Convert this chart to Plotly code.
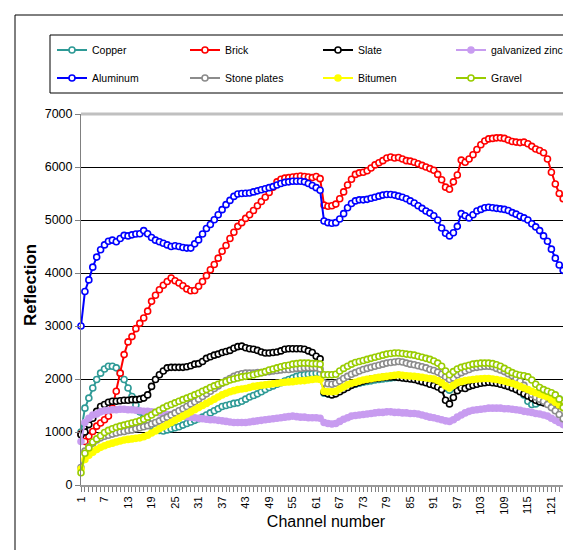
import plotly.graph_objects as go

channels = list(range(1, 127))

copper = [
    1000, 1450, 1640, 1830, 1990, 2110, 2190, 2240, 2240, 2210,
    2110, 1990, 1830, 1670, 1510, 1380, 1270, 1180, 1110, 1060,
    1030, 1020, 1040, 1060, 1080, 1100, 1130, 1160, 1190, 1220,
    1250, 1280, 1320, 1360, 1400, 1440, 1480, 1500, 1520, 1540,
    1550, 1580, 1620, 1660, 1690, 1720, 1760, 1800, 1840, 1870,
    1900, 1930, 1960, 1990, 2020, 2050, 2070, 2080, 2090, 2100,
    2110, 2100, 1730, 1720, 1720, 1730, 1770, 1810, 1850, 1880,
    1900, 1920, 1940, 1955, 1965, 1980, 1990, 2000, 2010, 2020,
    2030, 2040, 2030, 2020, 2015, 2010, 2000, 1990, 1980, 1970,
    1960, 1930, 1890, 1830, 1790, 1840, 1890, 1910, 1930, 1940,
    1950, 1960, 1965, 1970, 1970, 1960, 1950, 1935, 1920, 1900,
    1880, 1850, 1820, 1700, 1580, 1520, 1530, 1560, 1600, 1640,
    1660, 1670, 1620, 1550, 1610, 1580]

brick = [
    960, 820, 920, 1010, 1110, 1170, 1230, 1300, 1450, 1770,
    2110, 2460, 2700, 2800, 2950, 3050, 3150, 3280, 3465, 3580,
    3685, 3770, 3840, 3905, 3855, 3810, 3760, 3700, 3665, 3670,
    3750, 3840, 3950, 4060, 4160, 4280, 4410, 4520, 4650, 4770,
    4880, 4950, 5030, 5100, 5180, 5270, 5350, 5430, 5520, 5620,
    5720, 5770, 5790, 5800, 5810, 5820, 5830, 5820, 5810, 5800,
    5820, 5780, 5280, 5260, 5270, 5300, 5400, 5530, 5660, 5770,
    5860, 5890, 5900, 5930, 5980, 6040, 6080, 6120, 6170, 6190,
    6170, 6180, 6150, 6120, 6110, 6090, 6060, 6030, 6000, 5970,
    5940, 5860, 5760, 5620, 5580, 5720, 5850, 6130, 6090, 6150,
    6230, 6330, 6420, 6490, 6530, 6540, 6550, 6550, 6540, 6510,
    6480, 6470, 6460, 6470, 6440, 6390, 6340, 6310, 6270, 6150,
    5900, 5680, 5500, 5400, 5150, 5500]

slate = [
    950, 1000, 1140, 1260, 1390, 1480, 1520, 1560, 1580, 1580,
    1590, 1600, 1600, 1610, 1610, 1620, 1640, 1700, 1860, 1990,
    2080, 2150, 2210, 2220, 2220, 2220, 2220, 2230, 2250, 2280,
    2290, 2330, 2390, 2420, 2450, 2470, 2500, 2520, 2540, 2580,
    2610, 2620, 2590, 2570, 2560, 2540, 2510, 2490, 2490, 2500,
    2510, 2530, 2560, 2570, 2570, 2570, 2570, 2560, 2530, 2500,
    2430, 2380, 1750, 1720, 1700, 1720, 1760, 1800, 1840, 1880,
    1910, 1940, 1960, 1980, 2000, 2010, 2020, 2030, 2040, 2040,
    2040, 2030, 2020, 2010, 2000, 1990, 1970, 1950, 1930, 1900,
    1880, 1850, 1800, 1600, 1530, 1650, 1780, 1830, 1820, 1860,
    1880, 1900, 1920, 1930, 1940, 1930, 1920, 1900, 1880, 1860,
    1830, 1800, 1760, 1720, 1680, 1640, 1600, 1570, 1550, 1540,
    1530, 1520, 1500, 1480, 1460, 1450]

zinc = [
    820, 1180, 1260, 1320, 1340, 1380, 1400, 1410, 1420, 1420,
    1430, 1430, 1420, 1420, 1410, 1400, 1390, 1390, 1380, 1370,
    1360, 1340, 1330, 1330, 1320, 1310, 1300, 1290, 1280, 1270,
    1260, 1250, 1240, 1230, 1230, 1220, 1210, 1200, 1190, 1180,
    1180, 1180, 1180, 1190, 1200, 1210, 1220, 1230, 1240, 1250,
    1260, 1270, 1280, 1290, 1300, 1290, 1280, 1280, 1270, 1270,
    1270, 1260, 1180, 1160, 1150, 1160, 1200, 1240, 1270, 1300,
    1310, 1320, 1330, 1340, 1350, 1360, 1370, 1370, 1380, 1380,
    1370, 1370, 1360, 1360, 1350, 1350, 1340, 1320, 1300, 1280,
    1270, 1250, 1230, 1210, 1200, 1230, 1280, 1320, 1360, 1390,
    1410, 1420, 1430, 1440, 1450, 1450, 1450, 1450, 1440, 1440,
    1430, 1420, 1410, 1390, 1380, 1370, 1350, 1340, 1320, 1300,
    1260, 1220, 1180, 1140, 1110, 1090]

aluminum = [
    3000, 3650, 3870, 4110, 4300, 4440, 4530, 4600, 4620, 4590,
    4650, 4710, 4700, 4720, 4735, 4740, 4800, 4740, 4670, 4620,
    4590, 4560, 4530, 4500, 4515, 4500, 4480, 4470, 4470, 4550,
    4625, 4735, 4840, 4915, 5005, 5100, 5195, 5290, 5370, 5445,
    5490, 5500, 5505, 5510, 5530, 5550, 5570, 5590, 5610, 5630,
    5660, 5690, 5710, 5720, 5730, 5730, 5730, 5720, 5690, 5650,
    5610, 5560, 4980, 4950, 4940, 4950, 5020, 5120, 5230, 5310,
    5360, 5380, 5380, 5390, 5410, 5430, 5450, 5470, 5480, 5480,
    5470, 5450, 5430, 5400, 5360, 5320, 5270, 5220, 5170, 5130,
    5080, 5000, 4850, 4750, 4700, 4760, 4880, 5120, 5080, 5040,
    5100, 5170, 5200, 5230, 5240, 5230, 5220, 5210, 5200, 5180,
    5140, 5110, 5070, 5040, 5000, 4930, 4870, 4800, 4700, 4600,
    4450, 4280, 4150, 4050, 3850, 3960]

stone_plates = [
    330, 640, 720, 790, 850, 890, 920, 940, 960, 980,
    1000, 1010, 1030, 1040, 1060, 1080, 1100, 1120, 1150, 1180,
    1210, 1250, 1280, 1320, 1360, 1400, 1440, 1480, 1530, 1570,
    1620, 1670, 1720, 1770, 1820, 1870, 1920, 1970, 2010, 2050,
    2080, 2100, 2110, 2110, 2110, 2120, 2120, 2130, 2140, 2150,
    2160, 2170, 2180, 2180, 2190, 2200, 2200, 2210, 2210, 2210,
    2210, 2190, 1930, 1910, 1900, 1920, 1960, 2010, 2050, 2090,
    2120, 2150, 2180, 2200, 2220, 2240, 2260, 2280, 2300, 2310,
    2320, 2330, 2320, 2300, 2280, 2270, 2250, 2230, 2210, 2180,
    2160, 2130, 2090, 2040, 1990, 2020, 2080, 2120, 2150, 2180,
    2210, 2220, 2230, 2240, 2240, 2230, 2200, 2170, 2140, 2100,
    2060, 2010, 1960, 1880, 1790, 1710, 1660, 1620, 1580, 1520,
    1460, 1400, 1330, 1250, 1160, 1080]

bitumen = [
    300, 480, 560, 620, 670, 710, 740, 770, 790, 810,
    830, 850, 860, 870, 880, 890, 910, 940, 980, 1020,
    1060, 1100, 1140, 1180, 1220, 1260, 1300, 1340, 1380, 1420,
    1460, 1500, 1540, 1580, 1620, 1660, 1700, 1730, 1760, 1780,
    1800, 1810, 1820, 1840, 1860, 1870, 1880, 1890, 1900, 1910,
    1920, 1930, 1940, 1945, 1950, 1960, 1965, 1970, 1980, 1990,
    2000, 1990, 1770, 1760, 1760, 1770, 1810, 1850, 1890, 1920,
    1940, 1960, 1980, 1995, 2005, 2020, 2030, 2040, 2050, 2060,
    2070, 2080, 2070, 2060, 2055, 2050, 2040, 2030, 2020, 2010,
    2000, 1970, 1930, 1870, 1830, 1880, 1930, 1950, 1970, 1980,
    1990, 2000, 2005, 2010, 2010, 2000, 1990, 1975, 1960, 1940,
    1920, 1890, 1860, 1830, 1800, 1770, 1740, 1710, 1690, 1660,
    1610, 1560, 1510, 1460, 1420, 1330]

gravel = [
    230, 600, 700, 810, 870, 930, 990, 1030, 1060, 1090,
    1110, 1130, 1150, 1170, 1190, 1210, 1240, 1280, 1320, 1370,
    1410, 1450, 1490, 1520, 1550, 1580, 1610, 1640, 1670, 1700,
    1730, 1770, 1800, 1840, 1870, 1900, 1930, 1950, 1980, 2000,
    2020, 2040, 2050, 2060, 2080, 2100, 2120, 2140, 2170, 2190,
    2210, 2230, 2250, 2260, 2280, 2290, 2300, 2300, 2300, 2290,
    2290, 2280, 2080, 2080, 2080, 2090, 2150, 2200, 2240, 2280,
    2310, 2330, 2350, 2370, 2390, 2410, 2430, 2450, 2470, 2480,
    2490, 2490, 2480, 2470, 2460, 2450, 2430, 2410, 2390, 2370,
    2340, 2300, 2240, 2150, 2080, 2140, 2190, 2220, 2240, 2260,
    2280, 2290, 2300, 2300, 2300, 2290, 2270, 2240, 2200, 2160,
    2120, 2090, 2070, 2060, 2040, 1980, 1900, 1840, 1800, 1770,
    1740, 1700, 1620, 1460, 1420, 1390]

for arr in (copper, brick, slate, zinc, aluminum, stone_plates, bitumen, gravel):
    assert len(arr) == len(channels), len(arr)

series = [
    ("Copper", copper, "#2e9a96", "white", "legend"),
    ("Brick", brick, "#ff0000", "white", "legend"),
    ("Slate", slate, "#000000", "white", "legend"),
    ("galvanized zinc", zinc, "#c89cf0", "#c89cf0", "legend"),
    ("Aluminum", aluminum, "#0000ff", "white", "legend2"),
    ("Stone plates", stone_plates, "#8c8c8c", "white", "legend2"),
    ("Bitumen", bitumen, "#ffff00", "#ffff00", "legend2"),
    ("Gravel", gravel, "#99cc00", "white", "legend2"),
]

fig = go.Figure()
for name, vals, col, fill, lg in series:
    fig.add_trace(go.Scatter(
        x=channels, y=vals, name=name, mode="lines+markers",
        line=dict(color=col, width=2),
        marker=dict(symbol="circle", size=6, color=fill,
                    line=dict(color=col, width=1.6)),
        cliponaxis=False, legend=lg,
    ))

W, H = 571, 550
L, R, T, B = 73, 563, 106, 477


def px(x):
    return (x - L) / (R - L)


def py(y):
    return (B - y) / (B - T)


font_family = "Liberation Sans, Arial, sans-serif"

legend_common = dict(
    orientation="h", xanchor="left", yanchor="middle",
    entrywidth=88, entrywidthmode="pixels",
    font=dict(family=font_family, size=10.5, color="#000"),
    bgcolor="rgba(0,0,0,0)", borderwidth=0,
)

fig.update_layout(
    width=W, height=H,
    margin=dict(l=L, r=W - R, t=T, b=H - B, autoexpand=False),
    paper_bgcolor="white", plot_bgcolor="white",
    font=dict(family=font_family, color="#000"),
    showlegend=True,
    legend=dict(x=px(44), y=py(42), **legend_common),
    legend2=dict(x=px(44), y=py(70), **legend_common),
    xaxis=dict(
        range=[1, 126], tick0=1, dtick=6, tickangle=-90,
        ticks="outside", ticklen=5, tickcolor="#808080",
        showgrid=False, zeroline=False,
        showline=True, linecolor="#9a9a9a", linewidth=2,
        tickfont=dict(size=11),
        minor=dict(dtick=1, ticks="outside", ticklen=5, tickcolor="#808080", showgrid=False),
        title=dict(text="Channel number", font=dict(size=16), standoff=2),
    ),
    yaxis=dict(
        range=[0, 7000], dtick=1000,
        ticks="outside", ticklen=5, tickcolor="#808080",
        showgrid=True, gridcolor="#000000", gridwidth=1,
        zeroline=False, showline=True, linecolor="#808080", linewidth=1,
        tickfont=dict(size=12.5),
    ),
    annotations=[
        dict(text="<b>Reflection</b>", xref="paper", yref="paper",
             x=px(22), y=py(277), textangle=-90, showarrow=False,
             xanchor="center", yanchor="middle",
             font=dict(family=font_family, size=17, color="#000")),
    ],
    shapes=[
        dict(type="line", xref="paper", yref="paper", x0=0, x1=1, y0=1, y1=1,
             line=dict(color="#c0c0c0", width=3), layer="above"),
        dict(type="line", xref="paper", yref="paper", x0=1, x1=1, y0=0, y1=1,
             line=dict(color="#c0c0c0", width=2), layer="below"),
        dict(type="rect", xref="paper", yref="paper",
             x0=px(42), x1=px(560), y0=py(85), y1=py(27),
             line=dict(color="#000", width=1)),
        dict(type="rect", xref="paper", yref="paper",
             x0=px(7), x1=px(567), y0=py(548), y1=py(7),
             line=dict(color="#000", width=1)),
    ],
)

fig.write_html("out.html")
